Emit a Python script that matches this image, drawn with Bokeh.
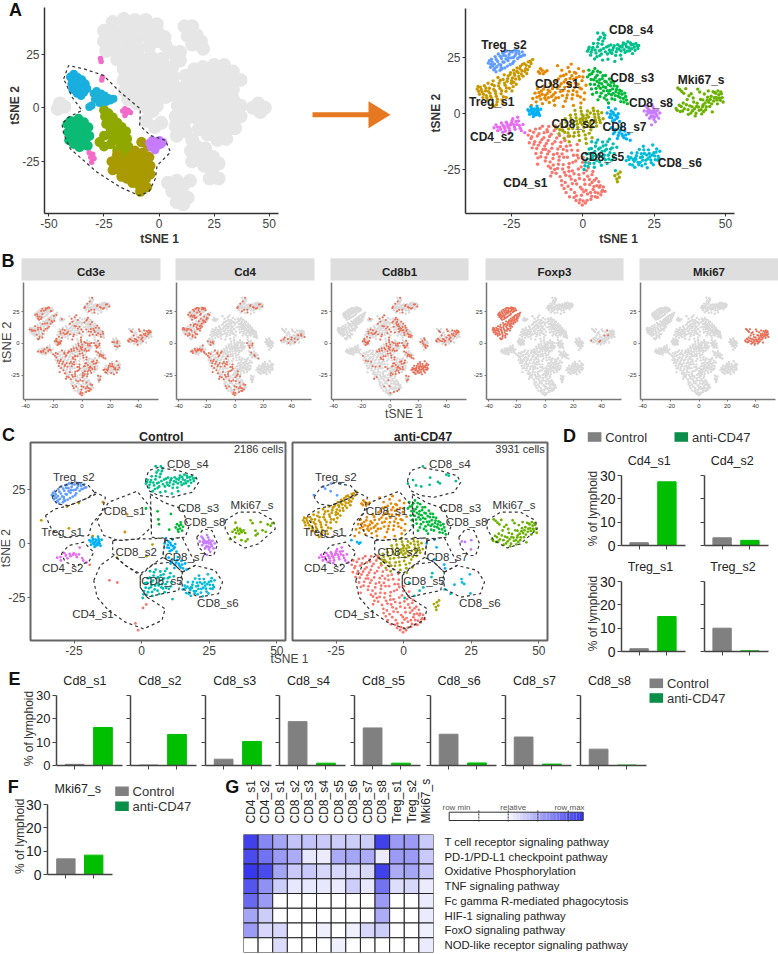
from math import pi
from bokeh.plotting import figure
from bokeh.models import Range1d, FixedTicker, FactorRange
from bokeh.core.properties import value
from bokeh.embed import file_html
from bokeh.resources import INLINE

FONT = "Liberation Sans"
GRAY_BAR = "#808080"
GREEN_BAR = "#00BE00"

# ---------- lymphoid map (panels A right, B, C) ----------
TREG_S2 = [(-33.2,22.6),(-32.4,20.7),(-32.1,24.3),(-31.3,19.6),(-31.0,22.1),(-30.8,25.4),(-30.2,20.9),(-29.9,23.3),(-29.7,26.6),(-29.1,19.3),(-28.8,21.7),(-28.6,24.6),(-28.2,27.2),(-27.7,22.9),(-27.4,20.4),(-27.1,25.8),(-26.8,28.0),(-26.3,23.7),(-25.9,26.4),(-25.5,21.9),(-25.2,24.9),(-24.8,27.5),(-24.2,23.4),(-23.8,25.9),(-23.3,28.1),(-22.9,24.6),(-22.4,26.8),(-21.7,25.5),(-21.3,27.6),(-20.5,26.2),(-30.5,18.7),(-27.9,26.0),(-24.6,22.5),(-31.8,23.0),(-28.4,19.9),
 (-32.8,23.6),(-31.6,21.3),(-30.4,24.2),(-29.4,22.0),(-28.1,23.1),(-27.0,24.4),(-26.5,21.2),(-25.6,27.6),(-24.4,25.1),(-23.5,26.9),(-22.2,25.4),(-21.0,26.1),(-30.9,20.1),(-29.0,25.6),(-26.1,25.0),(-27.6,27.4),(-24.0,28.3),(-22.6,27.9),(-32.3,22.0),(-28.7,20.6)]
TREG_S1 = [(-37.1,10.9),(-36.3,8.6),(-36.0,11.8),(-35.4,9.7),(-35.1,7.1),(-34.6,12.4),(-34.2,10.2),(-33.9,8.0),(-33.5,5.9),(-33.3,13.5),(-32.8,11.3),(-32.6,9.1),(-32.1,6.8),(-31.8,4.1),(-31.5,14.6),(-31.1,12.4),(-30.8,10.0),(-30.4,7.7),(-30.1,5.2),(-29.8,16.1),(-29.4,13.7),(-29.1,11.2),(-28.7,8.8),(-28.4,6.0),(-28.0,15.2),(-27.6,17.3),(-27.3,12.6),(-27.0,9.9),(-26.6,14.4),(-26.2,16.8),(-25.8,11.3),(-25.4,18.3),(-25.1,13.5),(-24.7,15.9),(-24.3,19.4),(-23.9,17.1),(-23.4,13.1),(-23.1,20.4),(-22.7,18.2),(-22.3,15.4),(-21.9,21.2),(-21.4,19.1),(-21.0,16.7),(-20.6,22.3),(-20.1,20.1),(-19.7,17.9),(-19.2,23.1),(-18.8,21.0),(-18.2,22.4),(-17.6,24.2),(-26.9,7.2),(-31.2,3.2),(-24.9,10.1),
 (-36.6,9.9),(-35.7,10.8),(-34.9,8.6),(-34.0,11.4),(-33.2,9.9),(-32.4,7.7),(-31.9,13.0),(-31.3,10.8),(-30.6,8.9),(-30.0,6.4),(-29.6,12.4),(-29.0,14.9),(-28.5,10.2),(-27.9,7.5),(-27.5,13.6),(-26.8,11.4),(-26.4,15.6),(-25.6,17.4),(-25.0,14.7),(-24.5,12.0),(-24.1,17.9),(-23.6,15.4),(-23.2,18.9),(-22.5,16.6),(-22.1,20.0),(-21.6,17.7),(-21.2,22.0),(-20.4,18.9),(-19.9,21.6),(-19.4,19.6),(-18.5,23.4),(-28.1,4.6),(-33.7,7.0),(-36.8,12.1),(-30.3,3.9),(-24.3,14.0)]
CD8_S1 = [(-18.1,3.6),(-17.6,6.7),(-16.8,9.1),(-16.4,5.2),(-15.9,11.2),(-15.6,18.7),(-15.2,7.8),(-14.9,20.1),(-14.6,10.1),(-14.2,4.4),(-13.9,17.8),(-13.6,12.3),(-13.2,8.1),(-12.9,6.1),(-12.6,19.1),(-12.2,10.4),(-11.8,4.9),(-11.4,13.6),(-11.0,7.6),(-10.7,11.1),(-10.2,5.8),(-9.7,9.3),(-9.3,14.6),(-8.9,21.4),(-8.5,7.1),(-8.2,12.2),(-7.8,16.7),(-7.4,19.4),(-7.0,10.2),(-6.6,14.1),(-6.2,5.5),(-5.9,17.6),(-5.5,8.3),(-5.2,20.6),(-4.9,12.1),(-4.5,15.7),(-4.1,22.1),(-3.8,6.6),(-3.4,10.3),(-3.0,18.4),(-2.7,13.6),(-2.3,16.0),(-1.9,8.0),(-1.5,20.1),(-1.1,11.4),(-0.7,4.7),(-0.3,14.7),(0.2,18.9),(0.6,9.2),(1.1,12.6),(-9.9,3.7),(-6.9,3.1),(-3.3,3.6),
 (-16.1,7.3),(-15.4,9.4),(-14.8,6.4),(-14.3,8.6),(-13.8,10.9),(-13.4,6.9),(-15.1,18.0),(-14.3,19.3),(-13.3,18.6),(-12.5,8.9),(-12.1,7.1),(-11.6,9.7),(-10.9,12.6),(-10.4,8.4),(-9.5,6.9),(-9.0,11.3),(-8.6,15.4),(-7.6,13.3),(-7.2,8.0),(-6.8,17.0),(-6.4,11.7),(-6.0,15.2),(-5.7,6.9),(-5.1,10.0),(-4.7,18.7),(-4.3,13.4),(-3.6,8.4),(-3.2,15.3),(-2.9,11.7),(-2.5,18.0),(-2.1,9.6),(-1.7,13.1),(-1.3,16.6),(-0.9,7.4),(-0.5,11.0),(0.0,16.3),(0.4,6.3),(-5.4,13.7),(-7.9,9.8),(-3.9,16.9)]
CD8_S2 = [(-9.1,-6.4),(-8.4,-9.1),(-7.7,-4.7),(-7.1,-7.6),(-6.6,-11.1),(-6.2,-2.4),(-5.7,-5.6),(-5.2,-8.7),(-4.8,-12.7),(-4.4,-0.8),(-4.0,-3.7),(-3.6,-6.7),(-3.2,-10.2),(-2.8,1.4),(-2.4,-1.9),(-2.0,-4.8),(-1.6,-8.3),(-1.2,-12.1),(-0.8,2.6),(-0.4,-0.4),(0.0,-3.1),(0.4,-6.2),(0.8,-9.6),(1.2,-13.4),(1.6,1.1),(2.0,-1.6),(2.4,-4.4),(2.8,-7.3),(3.2,-10.9),(3.6,2.4),(4.0,-0.3),(4.4,-2.9),(4.8,-5.6),(5.2,1.0),(5.6,-1.8),(6.1,-4.1),(6.6,0.3),(7.1,-2.4),(-1.0,-2.6),(1.0,-2.2),(-0.2,-5.0),
 (-8.1,-7.3),(-7.4,-6.0),(-6.4,-8.4),(-5.9,-3.9),(-5.0,-6.9),(-4.6,-10.1),(-4.2,-2.2),(-3.4,-4.9),(-3.0,-8.6),(-2.6,-0.4),(-2.2,-3.4),(-1.8,-6.3),(-1.4,-9.9),(-0.6,1.0),(-0.1,-1.9),(0.2,-7.9),(0.6,-4.4),(1.0,-11.3),(1.4,-0.7),(1.8,-5.7),(2.2,-8.9),(2.6,0.2),(3.0,-3.2),(3.4,-6.0),(3.8,1.2),(4.2,-1.7),(4.6,-4.0),(5.4,-0.4),(5.9,-3.0),(0.1,-1.0),(1.3,-3.4),(-0.9,-4.0),(11.2,-27.9),(11.9,-29.3),(12.3,-27.1),(12.8,-28.6),(12.1,-30.6),(13.1,-26.2)]
CD8_S3 = [(1.6,16.4),(2.1,19.4),(2.6,13.1),(3.1,17.8),(3.4,8.6),(3.8,15.1),(4.2,20.1),(4.6,11.2),(5.0,17.1),(5.3,6.1),(5.7,13.7),(6.1,18.4),(6.4,9.1),(6.8,15.6),(7.2,12.0),(7.5,6.9),(7.9,17.0),(8.2,14.1),(8.6,10.2),(9.0,4.7),(9.3,15.4),(9.7,12.4),(10.0,8.3),(10.4,11.0),(10.8,13.9),(11.2,6.2),(11.6,9.7),(12.0,12.1),(12.4,7.7),(12.9,10.4),(13.3,5.3),(13.7,8.6),(14.2,6.7),(14.7,9.1),(15.3,6.0),(15.6,4.4),(6.2,11.3),(8.1,8.1),(4.9,14.4),(3.0,11.0),
 (2.3,17.3),(2.9,15.2),(3.6,18.8),(4.1,13.0),(4.4,16.1),(4.8,9.4),(5.2,18.9),(5.5,12.3),(5.9,15.1),(6.0,7.6),(6.6,13.3),(7.0,16.9),(7.3,10.1),(7.7,14.4),(8.0,11.6),(8.4,6.1),(8.9,12.9),(9.1,8.9),(9.5,10.3),(9.9,14.0),(10.2,6.6),(10.6,9.0),(11.0,12.4),(11.4,8.0),(11.8,10.8),(12.6,9.0),(13.1,7.0),(13.5,10.0),(14.4,5.1),(15.0,7.6)]
CD8_S4 = [(1.6,27.9),(2.2,29.7),(2.7,26.1),(3.2,28.6),(3.7,31.3),(4.1,24.4),(4.6,27.1),(5.1,29.9),(5.5,33.1),(5.9,25.9),(6.3,28.4),(6.7,31.0),(7.1,35.9),(7.5,33.7),(7.9,27.6),(8.3,29.8),(8.8,24.3),(9.3,28.4),(9.8,30.7),(10.2,26.9),(10.7,29.5),(11.2,23.3),(11.7,27.6),(12.2,30.8),(12.7,28.7),(13.2,26.1),(13.7,29.7),(14.2,31.6),(14.8,27.3),(15.3,29.9),(15.8,32.1),(16.4,28.1),(16.9,30.7),(17.4,26.8),(18.0,29.7),(18.6,31.4),(19.3,29.1),(19.6,30.4),(5.2,36.0),(13.5,24.4),
 (2.0,28.7),(2.9,27.4),(3.5,29.6),(4.3,28.4),(4.9,25.4),(5.3,31.4),(5.8,28.1),(6.1,34.1),(6.5,26.6),(7.0,32.4),(7.3,29.1),(7.7,35.0),(8.6,26.6),(9.0,30.2),(9.6,27.4),(10.4,28.4),(11.0,30.3),(11.5,26.0),(12.0,29.0),(12.9,30.1),(13.4,28.0),(14.0,30.6),(14.5,28.6),(15.0,31.0),(15.6,27.9),(16.1,29.4),(16.7,31.6),(17.1,29.0),(17.7,30.9),(18.3,28.3),(19.0,30.3),(6.9,23.9)]
CD8_S5 = [(0.4,-25.1),(0.9,-21.9),(1.3,-18.2),(1.8,-23.7),(2.2,-15.9),(2.7,-20.6),(3.1,-12.7),(3.5,-17.8),(4.0,-24.1),(4.4,-14.7),(4.8,-21.1),(5.2,-11.9),(5.7,-18.3),(6.1,-15.4),(6.5,-23.2),(6.9,-12.8),(7.3,-20.2),(7.7,-16.7),(8.1,-14.1),(8.5,-22.4),(8.9,-18.7),(9.3,-11.5),(9.7,-15.9),(10.1,-20.9),(10.6,-13.6),(11.0,-17.9),(11.4,-25.6),(11.9,-15.1),(6.3,-19.3),(3.4,-20.1),
 (0.7,-23.4),(1.5,-20.3),(2.0,-18.0),(2.4,-22.4),(3.0,-15.7),(3.7,-19.1),(4.2,-17.0),(4.6,-13.1),(5.0,-19.3),(5.5,-15.9),(5.9,-21.7),(6.7,-17.0),(7.1,-14.6),(7.5,-18.7),(8.3,-16.0),(8.7,-12.6),(9.1,-20.4),(9.5,-17.6),(10.3,-15.4),(10.8,-19.7),(3.9,-22.3),(7.9,-20.7)]
CD8_S6 = [(15.2,-21.1),(15.9,-19.4),(16.5,-22.8),(17.1,-17.7),(17.7,-20.6),(18.2,-24.1),(18.8,-18.9),(19.3,-21.9),(19.8,-16.1),(20.2,-19.7),(20.7,-23.4),(21.2,-14.7),(21.6,-17.9),(22.1,-20.9),(22.6,-24.3),(23.0,-16.3),(23.5,-19.4),(24.0,-22.1),(24.5,-14.1),(24.9,-17.6),(25.4,-20.7),(25.9,-15.9),(26.4,-19.1),(27.0,-16.9),(22.4,-18.6),(20.1,-21.9),(18.0,-21.4),(26.7,-20.1),
 (16.2,-20.6),(16.9,-19.8),(17.4,-23.1),(18.4,-19.9),(19.0,-17.6),(19.6,-23.0),(20.5,-18.0),(21.0,-20.9),(21.4,-16.3),(21.9,-22.6),(22.8,-20.3),(23.3,-17.9),(23.8,-20.8),(24.3,-18.6),(24.7,-23.0),(25.2,-19.0),(25.7,-17.3),(26.2,-20.9),(18.6,-20.5),(20.9,-19.4)]
CD8_S7 = [(-19.3,1.7),(-18.7,-0.4),(-18.3,2.9),(-17.9,0.4),(-17.4,-1.4),(-17.0,2.0),(-16.5,0.1),(-16.1,3.3),(-15.7,1.1),(-15.2,-0.9),(-14.8,1.9),(-16.9,-0.7),(8.5,0.2),(9.0,2.7),(9.4,-1.7),(9.9,1.1),(10.4,-3.4),(10.9,-0.6),(11.4,2.0),(11.9,-2.2),(12.4,-0.1),(12.9,-3.6),(10.0,-6.4),(10.7,-9.1),(11.4,-7.2),(12.1,-11.2),(12.7,-8.7),(13.4,-6.1),(14.0,-10.1),(14.7,-7.9),(15.3,-11.4),(16.1,-9.1),(16.6,-12.0),
 (-18.9,1.0),(-18.1,1.6),(-17.6,-0.2),(-17.2,0.8),(-16.7,1.6),(-16.3,-0.6),(-15.9,2.2),(-15.5,0.0),(-17.9,2.1),(-16.0,0.6),(9.7,-0.5),(10.1,-1.9),(10.6,0.4),(11.1,-2.9),(11.6,-1.0),(12.2,-1.6),(11.2,-8.3),(12.4,-9.9),(13.1,-7.6),(13.7,-9.2),(14.4,-10.9),(15.0,-9.6)]
CD8_S8 = [(21.5,1.1),(22.1,3.4),(22.4,-0.6),(23.0,1.9),(23.4,-2.2),(23.9,0.4),(24.2,4.1),(24.6,-1.3),(25.0,1.7),(25.4,-3.7),(25.7,-0.2),(26.2,1.4),(26.6,-2.1),(27.0,0.2),(24.1,-5.1),(23.2,0.3),
 (22.7,0.9),(23.6,1.1),(24.0,-1.0),(24.4,1.0),(24.8,0.2),(25.2,-1.6),(25.5,0.7),(23.7,-1.7),(24.9,-2.6),(22.6,2.6),(26.0,-1.0),(24.6,2.9)]
MKI67_S = [(32.7,2.2),(33.3,11.4),(33.8,3.7),(34.2,0.9),(34.7,9.8),(35.2,4.7),(35.6,2.1),(36.1,11.1),(36.6,6.2),(37.0,-0.4),(37.5,3.4),(38.0,8.8),(38.5,1.2),(38.9,5.1),(39.4,-1.1),(39.9,3.1),(40.3,10.9),(40.8,1.4),(41.3,6.3),(41.7,-0.2),(42.2,3.9),(42.6,8.7),(43.1,1.7),(43.6,5.9),(44.0,10.1),(44.5,3.1),(45.0,7.7),(45.4,0.7),(45.9,5.6),(46.3,9.4),(46.8,7.2),(47.2,4.3),(47.7,8.4),(48.2,5.9),(48.6,8.8),(49.2,5.1),(42.1,6.1),(37.2,7.9),
 (33.1,1.4),(34.0,10.7),(34.5,3.1),(35.0,1.1),(35.4,9.0),(36.3,3.9),(36.9,1.7),(37.9,0.2),(38.3,3.0),(38.7,6.9),(39.2,2.1),(39.7,0.1),(40.1,4.6),(40.6,2.9),(41.0,9.6),(41.5,1.7),(42.0,3.0),(42.4,0.9),(42.9,4.7),(43.3,3.0),(43.8,7.3),(44.2,5.0),(44.7,6.3),(45.2,4.3),(45.7,9.7),(46.1,7.0),(46.6,9.0),(47.0,6.0),(47.4,10.1),(47.9,6.9),(48.4,9.6),(48.9,7.1)]
CD4_S2 = [(-31.2,-6.4),(-30.5,-5.1),(-29.9,-7.7),(-29.2,-6.2),(-28.6,-4.3),(-28.1,-8.4),(-27.4,-6.7),(-26.9,-3.9),(-26.3,-5.7),(-25.7,-7.7),(-25.1,-4.4),(-24.6,-2.4),(-24.0,-6.1),(-23.5,-3.6),(-22.9,-1.7),(-22.3,-5.4),(-21.6,-7.7),(-21.0,-4.9),(-20.4,-8.6),(-26.0,-8.9),
 (-30.0,-6.1),(-28.9,-7.1),(-28.0,-5.4),(-27.2,-7.9),(-26.6,-4.7),(-25.9,-6.6),(-25.4,-5.1),(-24.9,-3.4),(-24.3,-5.0),(-23.8,-7.1),(-23.2,-4.9),(-22.6,-3.4),(-22.0,-6.6),(-27.6,-5.9)]
CD4_S1 = [(-19.2,-9.7),(-18.8,-13.1),(-18.2,-11.2),(-17.8,-15.4),(-17.3,-8.4),(-16.9,-12.6),(-16.5,-17.9),(-16.0,-10.1),(-15.6,-14.2),(-15.1,-6.7),(-14.8,-19.4),(-14.4,-11.7),(-14.0,-16.1),(-13.6,-8.6),(-13.2,-21.3),(-12.8,-13.4),(-12.4,-18.1),(-12.0,-5.8),(-11.7,-10.3),(-11.3,-24.4),(-10.9,-15.6),(-10.5,-20.2),(-10.1,-7.7),(-9.8,-12.7),(-9.4,-26.8),(-9.0,-17.9),(-8.6,-22.7),(-8.2,-9.9),(-7.9,-14.8),(-7.5,-30.1),(-7.1,-24.9),(-6.7,-19.6),(-6.3,-12.1),(-6.0,-27.7),(-5.6,-16.7),(-5.2,-32.6),(-4.8,-22.4),(-4.4,-14.3),(-4.1,-29.4),(-3.7,-25.7),(-3.3,-18.7),(-2.9,-35.4),(-2.5,-21.3),(-2.2,-31.6),(-1.8,-16.6),(-1.4,-27.4),(-1.0,-38.6),(-0.6,-23.9),(-0.3,-33.9),(0.1,-19.7),(0.5,-29.7),(0.9,-40.1),(1.3,-25.6),(1.6,-36.1),(2.0,-22.1),(2.4,-31.9),(2.8,-38.4),(3.2,-27.4),(3.6,-34.0),(4.0,-29.9),(4.4,-37.3),(4.9,-32.3),(5.3,-35.6),(5.8,-33.1),(6.3,-36.4),(6.9,-34.4),(-12.4,-8.2),(-9.6,-5.6),(-5.2,-10.2),(-7.1,-7.4),(-15.9,-22.7),(-2.0,-13.9),(-11.3,-28.0),(-3.1,-37.6),(-0.2,-41.0),(1.7,-28.1),(-6.6,-33.6),(-10.4,-23.1),(-4.9,-25.9),(-8.3,-19.4),(-1.6,-20.0),(-3.7,-31.4),(-6.9,-16.1),(-13.1,-16.1),(3.2,-30.9),(0.3,-35.1),
 (-18.6,-7.7),(-17.9,-10.4),(-17.2,-13.8),(-16.6,-7.0),(-16.2,-15.7),(-15.4,-9.1),(-15.0,-12.9),(-14.6,-17.6),(-14.2,-5.7),(-13.7,-10.9),(-13.4,-14.6),(-13.0,-19.7),(-12.6,-7.3),(-12.2,-12.1),(-11.9,-16.9),(-11.5,-21.7),(-11.1,-9.3),(-10.7,-13.6),(-10.3,-18.4),(-9.9,-25.1),(-9.5,-6.6),(-9.2,-11.0),(-8.8,-15.9),(-8.4,-20.9),(-8.0,-28.3),(-7.7,-12.9),(-7.3,-18.1),(-6.9,-22.9),(-6.5,-26.4),(-6.2,-30.9),(-5.8,-14.7),(-5.4,-19.6),(-5.0,-24.1),(-4.6,-28.1),(-4.2,-34.0),(-3.9,-16.4),(-3.5,-21.9),(-3.1,-27.0),(-2.7,-30.0),(-2.3,-36.9),(-2.0,-18.7),(-1.6,-24.9),(-1.2,-29.1),(-0.9,-33.0),(-0.5,-36.6),(-0.1,-21.9),(0.3,-26.7),(0.7,-31.7),(1.1,-34.4),(1.5,-38.9),(1.9,-24.3),(2.3,-29.6),(2.7,-35.4),(3.1,-37.1),(3.5,-26.0),(3.9,-32.7),(4.3,-35.3),(4.7,-29.1),(5.1,-37.6),(5.6,-30.6),(6.1,-32.3),(6.6,-35.0),(7.2,-32.9),(7.8,-34.9),(-1.3,-40.0),(-2.4,-39.0),(0.1,-39.2),(-15.8,-19.9),(-12.1,-23.6),(-8.9,-24.6),(-10.8,-26.4),(-7.4,-32.1),(-5.9,-35.4),(-4.7,-37.3)]

# tight spots that only the control sample shows
CTRL_S3 = [(12.6,7.6),(13.1,9.1),(13.4,6.6),(13.9,8.4),(14.2,7.1),(14.6,8.9),(15.0,6.1),(15.3,7.9),(13.6,5.6),(14.4,10.0)]
CTRL_MKI = [(33.6,5.6),(34.4,6.6),(35.0,5.0),(35.6,6.1),(36.1,4.7),(36.4,6.9),(37.0,5.4),(37.7,6.2),(35.3,7.4),(38.3,5.0)]

CLUSTER_NAMES = ["CD4_s1","CD4_s2","CD8_s1","CD8_s2","CD8_s3","CD8_s4","CD8_s5","CD8_s6","CD8_s7","CD8_s8","Treg_s1","Treg_s2","Mki67_s"]
CLUSTER_POINTS = [CD4_S1,CD4_S2,CD8_S1,CD8_S2,CD8_S3,CD8_S4,CD8_S5,CD8_S6,CD8_S7,CD8_S8,TREG_S1,TREG_S2,MKI67_S]
CLUSTER_COLORS = ["#F8766D","#E76BF3","#E58700","#A3A500","#00BA38","#00C08B","#00BFAF","#00BCD8","#00B0F6","#C77CFF","#C99800","#619CFF","#6BB100"]

A2_LABELS = [("Treg_s2",-27.7,30.8),("Treg_s1",-32,5.2),("CD8_s1",-9.1,13.3),("CD8_s2",-3.3,-4.9),("CD8_s3",17.3,16),("CD8_s4",16.9,37.4),("CD8_s5",6.8,-19.5),("CD8_s6",34,-22),("CD8_s7",14.6,-6.1),("CD8_s8",23.9,4.5),("Mki67_s",41.5,14.8),("CD4_s1",-20.2,-31.1),("CD4_s2",-31.9,-10.6)]
C_LABELS = [("Treg_s2",-25.1,30.9),("Treg_s1",-29.4,5.7),("CD8_s1",-6.3,15.4),("CD8_s2",-2,-3.9),("CD8_s3",21,16.5),("CD8_s4",17.1,36.9),("CD8_s5",7.5,-17.4),("CD8_s6",28.2,-27.3),("CD8_s7",16.1,-6.2),("CD8_s8",23.3,10.3),("Mki67_s",40.8,18),("CD4_s1",-18,-32.7),("CD4_s2",-29.2,-11.4)]
# every n-th cell of a cluster is present in a condition
CONTROL_STEP = [25,2,30,30,12,1,1,1,1,1,25,1,4]
ANTI_STEP = [1,1,1,1,1,6,8,6,6,8,1,8,1]

OUTLINES = [
 [(-33.1,21.6),(-30.7,26.2),(-25.7,28.2),(-19.6,27),(-16.9,23.1),(-20.8,20.8),(-27,17.7),(-31.3,18.5)],
 [(-35.6,13.1),(-31.9,16.2),(-27,17.7),(-20.8,20.8),(-17.1,23.9),(-13.4,21.6),(-14.7,14.7),(-18.4,9.3),(-19.6,3.9),(-28.2,3.1),(-33.1,6.2)],
 [(-16.5,10.8),(-12.2,19.3),(-1.7,24.4),(3.2,17),(3.6,7.7),(-1.1,2.3),(-8.5,1.5),(-14,3.9)],
 [(-10.7,1.5),(-1.1,2.3),(3.6,2.3),(8.7,2.8),(7.8,-6.2),(4.4,-9.3),(-0.5,-13.9),(-6,-10),(-10.7,-4.6)],
 [(3.2,23.1),(8.1,19.3),(15,16.2),(17.4,7.7),(16.1,3.1),(8.7,2.3),(3.6,3.1),(3.6,12.4)],
 [(1.4,29.3),(2.6,34),(6.3,35.5),(13.7,33.9),(19.8,31.6),(21.1,28.5),(18.6,23.9),(11.2,21.6),(6.3,22.4),(2.6,24.7)],
 [(-0.5,-14.7),(4.4,-9.3),(11.2,-8.5),(15,-13.1),(13.7,-21.6),(6.3,-23.5),(2,-24.7),(-0.5,-20.1)],
 [(15,-13.1),(19.8,-10),(27.2,-12.3),(29.9,-17.7),(28.4,-23.1),(21.1,-24.7),(15,-20.8)],
 [(8.7,1.5),(15,3.1),(17.4,-3.1),(19.3,-7.7),(19.8,-10),(15,-13.1),(11.2,-8.5),(7.8,-6.2)],
 [(20.4,3.1),(22.9,6.9),(26,6.2),(28.1,0),(26.6,-5.4),(24.1,-5.4),(21.1,-1.5)],
 [(30.9,10.8),(35.8,14.7),(43.2,14.7),(48.8,10.8),(49.4,6.9),(43.2,0),(38.3,-1.9),(33.4,1.5),(30.9,6.9)],
 [(-17.7,-17),(-15.3,-10),(-10.3,-5.4),(-6,-10),(-0.5,-14.7),(-0.5,-20.1),(2,-24.7),(8.7,-30.1),(7.5,-35.5),(0.7,-39.4),(-6,-36.3),(-12.2,-30.9),(-16.5,-24.7)],
 [(-29.7,-4.6),(-27,-0.8),(-21.4,0.8),(-17.7,-3.9),(-19.6,-8.5),(-24.5,-10),(-28.2,-8.5)],
]

GENES = ["Cd3e","Cd4","Cd8b1","Foxp3","Mki67"]
# every n-th cell of each cluster reads as expressing the gene (0: none), order of CLUSTER_NAMES
GENE_STEP = [[2,3,3,2,3,4,2,2,2,4,3,3,2],
             [2,2,0,0,0,4,0,0,4,0,2,2,5],
             [8,0,3,2,2,4,2,1,2,3,0,0,2],
             [0,0,0,0,0,0,0,0,0,0,1,1,12],
             [0,0,0,0,0,0,0,0,0,0,0,0,1]]

# ---------- panel A left (all cells) ----------
ALL_GRAY = [(-25,36),(-25,31),(-24,26.5),(-21,40),(-20.5,35.5),(-20,31),(-19.5,26.5),(-19,22.5),(-16,41.5),(-15.5,37),(-15,32.5),(-14.5,28),(-14,23.5),(-11,41),(-10.5,36.5),(-10,32),(-9.5,27.5),(-9,23),(-6,41),(-5.5,37),(-5,33),(-4.5,28.5),(-4,24),(-1,39),(-0.5,35),(0,31),(2.5,33),(3,29),
 (-16,18),(-16,13),(-15.5,8),(-14,4),(-12,20),(-11.5,15.5),(-11,11),(-11,6.5),(-10,2),(-7.5,22),(-7,17.5),(-6.5,13),(-6.5,8.5),(-6,4),(-5.5,0),(-3,23),(-2.5,18.5),(-2,14),(-2,9.5),(-1.5,5),(-1,1),(1.5,23),(2,18.5),(2.5,14),(2.5,9.5),(3,5),(6,19),(6.5,14.5),(7,10),(7.5,5.5),(8.5,1),(-3,-1.5),
 (11.5,38),(13,33.5),(15,38),(15,29.5),(17,34),(19,31),(20,27.5),(8,23),(9.5,26),(9.5,22),(6,26),
 (12,15),(12,10),(12,5.5),(13,1),(14,-4),(16,18),(16,13.5),(16,9),(16.5,4.5),(17,0),(17.5,-5),(18,-10),(20,19),(20.5,15),(20.5,10.5),(21,6),(21,1.5),(21.5,-3),(22,-8),(22,-12.5),(25,20),(25,16),(25,11.5),(25.5,7),(25.5,2.5),(26,-2),(26,-6.5),(26.5,-11),(26.5,-15),(29.5,20),(29.5,16),(29.5,11.5),(29.5,7),(30,2.5),(30,-2),(30,-6.5),(30.5,-11),(30.5,-14.5),(33.5,17),(33.5,13),(33.5,8.5),(33.5,4),(34,-0.5),(34,-5),(34.5,-9.5),(37,13),(37,1),(37,-4),
 (42.5,0),(45,2),(46,-2),(48,0),(-45,2),(-43,0.5),(-46,-0.5),
 (7.5,-4),(7.5,-8.5),(8,-13),(11.5,-2),(11.5,-6.5),(12,-11),(15,-15),(17,-18),(14.5,-20),(19,-23),(15,-25),(21,-19),(20.5,-27),(24.5,-23),(24,-29),(27,-26),(27,-33),(23,-33),
 (-6,-6),(-2,-9),(1,-7),(4,-35),(8,-34),(11,-36),(14,-34),(6,-39),(10,-41),(13,-42),(8,-44),(11,-45)]
A_BLUE1 = [(-40.2,14.4),(-39.6,11.2),(-39.2,8.6),(-38.7,15.7),(-38.2,12.9),(-37.8,9.7),(-37.2,6.8),(-36.9,14.1),(-36.4,11.2),(-35.9,8.1),(-35.4,5.7),(-35.1,13.1),(-34.6,9.9),(-34.1,7.4),(-33.5,11.2),(-32.8,9.0)]
A_BLUE2 = [(-29.7,6.7),(-29.1,3.9),(-28.4,7.9),(-27.7,5.2),(-27.1,2.2),(-26.3,6.7),(-25.6,3.7),(-24.7,5.7),(-24.1,2.7),(-23.1,4.6),(-22.2,3.4),(-20.7,4.2),(-31.7,0.4),(-30.6,1.1)]
A_GREEN = [(-41.6,-7.7),(-41.2,-11.4),(-40.8,-15.1),(-40.2,-6.1),(-39.7,-9.7),(-39.2,-13.4),(-38.7,-16.9),(-38.1,-7.4),(-37.7,-11.1),(-37.1,-14.7),(-36.6,-5.1),(-36.1,-18.4),(-35.6,-8.9),(-35.1,-12.7),(-34.6,-16.1),(-34.1,-6.7),(-33.6,-10.4),(-33.1,-14.1),(-32.4,-17.7),(-32.1,-9.1),(-31.7,-13.1)]
A_OLIVE = [(-25,-1),(-24.5,-4),(-24,-7.5),(-23,-2.5),(-22.5,-6),(-22,-10),(-21.5,-13.5),(-21,-4.5),(-20.5,-8),(-20,-11.5),(-19.5,-15),(-19,-7),(-18.5,-10.5),(-18,-14),(-17.5,-18),(-17,-9),(-16.5,-12.5),(-16,-16),(-15.5,-20),(-15,-11),(-14.5,-14.5),(-14,-18),(-13.5,-22),(-25,-13),(-27,-16),(-25,-18),(-22,-17),(-19,-20),(-16,-23)]
A_YELLOW = [(-21.5,-25),(-21,-29),(-20,-26.5),(-19,-22),(-18.5,-25),(-18,-29),(-17,-32),(-16,-26),(-15.5,-30),(-14.5,-33),(-13.5,-23),(-13,-27),(-12.5,-31),(-12,-35),(-11,-20),(-10.5,-24),(-10,-28),(-9.5,-32),(-9,-36),(-8.5,-39),(-8,-16),(-7.5,-21),(-7,-25),(-6.5,-29),(-6,-33),(-5.5,-37),(-5,-18),(-4.5,-23),(-4,-27),(-4,-31)]
A_PINK = [(-16.5,-1.5),(-15.5,-0.4),(-15,-2.6),(-14,-1.1),(-13,-2.2),(-15.5,-3.6),(-31.7,-21),(-31,-23.1),(-30.6,-25.4),(-30.1,-21.7),(-29.5,-23.7),(-25.7,14.4),(-26,13),(-26.6,23),(-26.3,21.6)]
A_PURPLE = [(-4.4,-16.4),(-3.7,-18.4),(-3.1,-15.1),(-2.5,-17.4),(-1.8,-19.7),(-1.2,-15.7),(-0.6,-17.7),(0.2,-15.1),(0.8,-17.1),(1.8,-16.1)]
A_OUTLINE = [(-43.3,13.5),(-41.1,19.7),(-34.2,18.2),(-25.2,15.1),(-17.6,7.3),(-8.5,-0.5),(-8.8,-8.2),(-3.9,-12.9),(2.9,-15.2),(5.2,-20.7),(-0.9,-26.9),(-1.7,-33.1),(-4.7,-39.3),(-9.2,-40.9),(-17.6,-37),(-28.2,-30),(-40.3,-19.1),(-43.3,-12.1),(-44.1,-7.5),(-41.1,-4.4),(-35,-1.2),(-39.5,5),(-43.3,13.5)]

# ---------- bars ----------
D_TITLES = ["Cd4_s1","Cd4_s2","Treg_s1","Treg_s2"]
D_CONTROL = [1.2,3.3,1.2,10.0]
D_ANTI = [27.3,2.2,15.0,0.3]
E_TITLES = ["Cd8_s1","Cd8_s2","Cd8_s3","Cd8_s4","Cd8_s5","Cd8_s6","Cd8_s7","Cd8_s8"]
E_CONTROL = [0.5,0.2,2.7,18.8,16.1,13.4,12.2,7.0]
E_ANTI = [16.3,13.3,10.3,1.0,1.0,1.1,0.6,0.2]
F_TITLE = "Mki67_s"
F_CONTROL = 6.7
F_ANTI = 8.3

# ---------- heat map ----------
HEAT_COLS = ["CD4_s1","CD4_s2","CD8_s1","CD8_s2","CD8_s3","CD8_s4","CD8_s5","CD8_s6","CD8_s7","CD8_s8","Treg_s1","Treg_s2","Mki67_s"]
HEAT_ROWS = ["T cell receptor signaling pathway","PD-1/PD-L1 checkpoint pathway","Oxidative Phosphorylation","TNF signaling pathway","Fc gamma R-mediated phagocytosis","HIF-1 signaling pathway","FoxO signaling pathway","NOD-like receptor signaling pathway"]
HEAT = [[.95,.6,.45,.3,.3,.27,.25,.25,.25,.95,.5,.5,.27],
        [.9,.7,.5,.42,.12,.1,.42,.45,.42,.1,.5,.5,.27],
        [1,.9,.45,.27,.27,.2,.2,.2,.2,.95,.42,.45,.27],
        [.85,.55,.25,.12,.12,.12,.1,.25,.12,.7,.17,.2,.1],
        [.75,.5,0,0,0,0,0,0,0,.5,0,0,.1],
        [.45,.25,0,0,0,0,0,0,0,.42,0,0,.1],
        [.5,.2,.2,0,0,.08,0,.08,.2,.25,0,0,.08],
        [0,0,.18,0,0,0,.08,0,0,0,0,0,.1]]


def heat_color(v):
    r = round(255 + (55 - 255) * v)
    g = round(255 + (55 - 255) * v)
    b = round(255 + (235 - 255) * v)
    return f"#{r:02x}{g:02x}{b:02x}"


def xs(pts):
    return [q[0] for q in pts]


def ys(pts):
    return [q[1] for q in pts]


figs = []


def tile(fx, fy, fw, fh, xr, yr, L=60, R=8, T=8, B=30, **kw):
    p = figure(width=round(fw + L + R), height=round(fh + T + B), x_range=xr, y_range=yr,
               min_border_left=L, min_border_right=R, min_border_top=T, min_border_bottom=B,
               toolbar_location=None, output_backend="svg",
               background_fill_color=None, border_fill_color=None, outline_line_color=None, **kw)
    p.styles = {"position": "absolute", "left": f"{round(fx - L)}px", "top": f"{round(fy - T)}px"}
    p.grid.visible = False
    figs.append(p)
    return p


def style_axes(p, xticks, yticks, color="#333333", width=1.5, size="12px", tcolor="#444444", ticklen=3, xlabels=True, ylabels=True):
    for ax, ticks, lab in ((p.xaxis[0], xticks, xlabels), (p.yaxis[0], yticks, ylabels)):
        ax.ticker = FixedTicker(ticks=ticks)
        ax.axis_line_color = color
        ax.axis_line_width = width
        ax.major_tick_line_color = color
        ax.major_tick_line_width = 1
        ax.major_tick_out = ticklen
        ax.major_tick_in = 0
        ax.minor_tick_line_color = None
        ax.major_label_text_font = FONT
        ax.major_label_text_font_size = size
        ax.major_label_text_color = tcolor
        ax.major_label_standoff = 2
        ax.major_label_overrides = {t: (str(t) if lab else "") for t in ticks}


def labels(p, items, size, bold=False, color="#222222"):
    p.text([i[1] for i in items], [i[2] for i in items], text=[i[0] for i in items],
           text_font=value(FONT), text_font_size=size, text_font_style="bold" if bold else "normal",
           text_color=color, text_align="center", text_baseline="middle")


# Panel A left
pa1 = tile(44.3, 7, 233.7, 206, Range1d(-52, 54.2), Range1d(-49.3, 46.8))
style_axes(pa1, [-50, -25, 0, 25, 50], [-25, 0, 25])
pa1.scatter(xs(ALL_GRAY), ys(ALL_GRAY), size=14, color="#E6E6E6", line_color=None)
for pts, col, sz in ((A_GREEN, "#0BBA74", 10), (A_OLIVE, "#8FA800", 10), (A_YELLOW, "#A89A00", 10.5),
                     (A_BLUE1, "#19AEE0", 9), (A_BLUE2, "#1DB0D8", 8), (A_PINK, "#F36BC8", 5.5), (A_PURPLE, "#C77CFF", 8.5)):
    pa1.scatter(xs(pts), ys(pts), size=sz, color=col, line_color=None)
pa1.line(xs(A_OUTLINE), ys(A_OUTLINE), line_color="#333333", line_width=1.2, line_dash="3 3")

# Panel A right
pa2 = tile(465.3, 8, 268.7, 204.7, Range1d(-41.2, 53.2), Range1d(-44.8, 47))
style_axes(pa2, [-25, 0, 25, 50], [-25, 0, 25])
for pts, col in zip(CLUSTER_POINTS, CLUSTER_COLORS):
    pa2.scatter(xs(pts), ys(pts), size=3.4, color=col, line_color=None)
labels(pa2, A2_LABELS, "12px", bold=True)

# Panel B
for g, left, steps in zip(GENES, (22.8, 176, 331, 486, 640), GENE_STEP):
    pb = tile(left, 281.7, 135, 116.7, Range1d(-41.5, 54.2), Range1d(-44.3, 48), L=30, B=20)
    style_axes(pb, [-40, -20, 0, 20, 40], [-25, 0, 25], color="#777777", size="6px", tcolor="#333333", ticklen=2)
    for pts in CLUSTER_POINTS:
        pb.scatter(xs(pts), ys(pts), size=2.4, color="#D9D9D9", line_color=None)
    for pts, st in zip(CLUSTER_POINTS, steps):
        if st:
            sub = pts[::st]
            pb.scatter(xs(sub), ys(sub), size=2.0, color="#EE6A50", line_color=None)

# Panel C
for left, step, ylab in ((30, CONTROL_STEP, True), (291.7, ANTI_STEP, False)):
    pc = tile(left, 441.7, 255, 198.3, Range1d(-41.1, 53.2), Range1d(-44.8, 47), L=30, B=22)
    style_axes(pc, [-25, 0, 25, 50], [-25, 0, 25], color="#666666", size="12px", ylabels=ylab)
    pc.xaxis[0].axis_line_color = None
    pc.yaxis[0].axis_line_color = None
    if not ylab:
        pc.yaxis[0].major_tick_line_color = None
    pc.outline_line_color = "#666666"
    pc.outline_line_width = 2
    for pts, col, st in zip(CLUSTER_POINTS, CLUSTER_COLORS, step):
        sub = pts[::st]
        pc.scatter(xs(sub), ys(sub), size=2.8, color=col, line_color=None)
    if ylab:
        pc.scatter(xs(CTRL_S3), ys(CTRL_S3), size=2.8, color="#00BA38", line_color=None)
        pc.scatter(xs(CTRL_MKI), ys(CTRL_MKI), size=2.8, color="#6BB100", line_color=None)
    for o in OUTLINES:
        ring = o + o[:1]
        pc.line(xs(ring), ys(ring), line_color="#333333", line_width=1.2, line_dash="3 3")
    labels(pc, C_LABELS, "11.5px", color="#333333")


def bars(ax_x, y30, y0, control, anti, fw=64.4, off=17.7, gap=28.0, ylabels=True, size="14px"):
    p = tile(ax_x, y30, fw, y0 - y30, Range1d(1 - off / gap, 1 + (fw - off) / gap), Range1d(0, 30), L=40, R=4, T=6, B=8)
    style_axes(p, [1, 2], [0, 10, 20, 30], color="#444444", size=size, tcolor="#222222", ticklen=4,
               xlabels=False, ylabels=ylabels)
    p.xaxis[0].major_label_standoff = 0
    p.xaxis[0].major_label_text_font_size = "1px"
    p.vbar(x=[1], top=[control], width=0.66, color=GRAY_BAR)
    p.vbar(x=[2], top=[anti], width=0.66, color=GREEN_BAR)
    return p


# Panel D
bars(621.3, 475.3, 545.3, D_CONTROL[0], D_ANTI[0])
bars(703.7, 475.3, 545.3, D_CONTROL[1], D_ANTI[1], ylabels=False)
bars(621.3, 580.7, 650.7, D_CONTROL[2], D_ANTI[2])
bars(703.7, 580.7, 650.7, D_CONTROL[3], D_ANTI[3], ylabels=False)

# Panel E
E_AXES = [56, 130.5, 205, 279.4, 353.8, 429.8, 504.7, 579.7]
for i, ax_x in enumerate(E_AXES):
    bars(ax_x, 695, 765.3, E_CONTROL[i], E_ANTI[i], fw=65.6, off=18, gap=28.2, ylabels=i == 0, size="13px")

# Panel F
bars(47, 803.7, 873.7, F_CONTROL, F_ANTI, fw=64.7, off=18.3, gap=27.7)

# Panel G
ph = tile(243.3, 834.3, 190, 118, FactorRange(factors=HEAT_COLS), FactorRange(factors=HEAT_ROWS[::-1]),
          L=2, R=200, T=62, B=1, x_axis_location="above", y_axis_location="right")
hx, hy, hc = [], [], []
for r, row in zip(HEAT_ROWS, HEAT):
    for c, v in zip(HEAT_COLS, row):
        hx.append(c)
        hy.append(r)
        hc.append(heat_color(v))
ph.rect(hx, hy, width=1, height=1, fill_color=hc, line_color="#222222", line_width=1)
for ax, sz, col in ((ph.xaxis[0], "12px", "#222222"), (ph.yaxis[0], "11.3px", "#222222")):
    ax.axis_line_color = None
    ax.major_tick_line_color = None
    ax.minor_tick_line_color = None
    ax.major_label_text_font = FONT
    ax.major_label_text_font_size = sz
    ax.major_label_text_color = col
    ax.major_label_standoff = 5
ph.xaxis[0].major_label_orientation = pi / 2

# ---------- page overlay: letters, strips, titles, legends, arrow ----------
ov = figure(width=778, height=954, x_range=Range1d(0, 778), y_range=Range1d(954, 0),
            min_border=0, toolbar_location=None, output_backend="svg",
            background_fill_color=None, border_fill_color=None, outline_line_color=None)
ov.axis.visible = False
ov.grid.visible = False
ov.styles = {"position": "absolute", "left": "0px", "top": "0px"}


def T(txt, x, y, size="12px", bold=False, color="#222222", align="center", angle=0):
    ov.text([x], [y], text=[txt], text_font=value(FONT), text_font_size=size,
            text_font_style="bold" if bold else "normal", text_color=color,
            text_align=align, text_baseline="middle", angle=angle)


for txt, x, y in (("A", 15, 9), ("B", 7.5, 260), ("C", 8, 434), ("D", 569, 435), ("E", 14, 678), ("F", 12.7, 786), ("G", 231.7, 786)):
    T(txt, x, y, size="18px", bold=True, color="#111111")

# arrow
ov.patch([312, 368, 368, 390, 368, 368, 312], [111.8, 111.8, 100.7, 114.3, 127.7, 116.8, 116.8], color="#E57820", line_color=None)

# axis titles
T("tSNE 2", 14, 105, bold=True, color="#333333", angle=pi / 2)
T("tSNE 1", 159, 238, bold=True, color="#333333")
T("tSNE 2", 435, 112.7, bold=True, color="#333333", angle=pi / 2)
T("tSNE 1", 618, 238, bold=True, color="#333333")
T("tSNE 2", 6, 341.7, size="13px", color="#444444", angle=pi / 2)
T("tSNE 1", 403.6, 413.7, size="12px", color="#444444")
T("tSNE 2", 5, 547.7, size="12px", color="#444444", angle=pi / 2)
T("tSNE 1", 289, 658, size="12px", color="#444444")

# strips
for g, l, r in zip(GENES, (21, 175, 330, 485, 639), (160, 314, 468, 623, 778)):
    ov.quad(left=[l], right=[r], top=[257.7], bottom=[280], color="#DEDEDE", line_color=None)
    T(g, (l + r) / 2, 271, size="11.5px", bold=True, color="#222222")

# C titles
T("Control", 160.7, 436, size="12.5px", bold=True)
T("anti-CD47", 422.5, 436, size="12.5px", bold=True)
T("2186 cells", 283, 448.7, size="11px", color="#333333", align="right")
T("3931 cells", 544.3, 448.7, size="11px", color="#333333", align="right")

# bar titles
for txt, x, y in zip(D_TITLES, (648.7, 731.7, 650, 732.5), (460.7, 460.7, 566, 566)):
    T(txt, x, y, size="12.5px")
for txt, x in zip(E_TITLES, (84.4, 159.3, 234.2, 308, 383, 458.6, 534, 609)):
    T(txt, x, 680, size="12.5px")
T(F_TITLE, 77.3, 788.7, size="12.5px")

# y titles
for x, y in ((592.7, 508), (592.7, 613), (28, 728), (19.3, 835.7)):
    T("% of lymphoid", x, y, size="12px", color="#333333", angle=pi / 2)


def legend(x_gray, y_gray, x_green, y_green, w=13.6, h=9.6):
    ov.quad(left=[x_gray], right=[x_gray + w], top=[y_gray], bottom=[y_gray + h], color=GRAY_BAR, line_color=None)
    ov.quad(left=[x_green], right=[x_green + w], top=[y_green], bottom=[y_green + h], color="#0A8F4A", line_color=None)
    T("Control", x_gray + w + 3.8, y_gray + h / 2 + .6, size="13px", align="left", color="#333333")
    T("anti-CD47", x_green + w + 3.8, y_green + h / 2 + .6, size="13px", align="left", color="#333333")


legend(587.3, 431.7, 674, 431.7)
legend(649, 678, 649, 692.7)
legend(114.7, 786, 114.7, 801)

# G colour key
KEY_STEPS = list(range(40))
for k in KEY_STEPS:
    f = k / 39
    v = 0 if f < .42 else (f - .42) / .58
    ov.quad(left=[448.7 + k * 134 / 40], right=[448.7 + (k + 1) * 134 / 40], top=[811.7], bottom=[820],
            color=heat_color(v), line_color=None)
ov.quad(left=[448.7], right=[582.7], top=[811.7], bottom=[820], fill_color=None, line_color="#333333", line_width=1)
ov.segment([478.3, 507.7, 537.3, 567.7], [810, 810, 810, 810], [478.3, 507.7, 537.3, 567.7], [821, 821, 821, 821],
           line_color="#333333", line_width=1, line_dash="2 1")
T("row min", 456, 807, size="8px", color="#555555")
T("relative", 512.7, 807, size="8px", color="#555555")
T("row max", 569, 807, size="8px", color="#555555")

open("out.html", "w").write(file_html(figs + [ov], INLINE))
